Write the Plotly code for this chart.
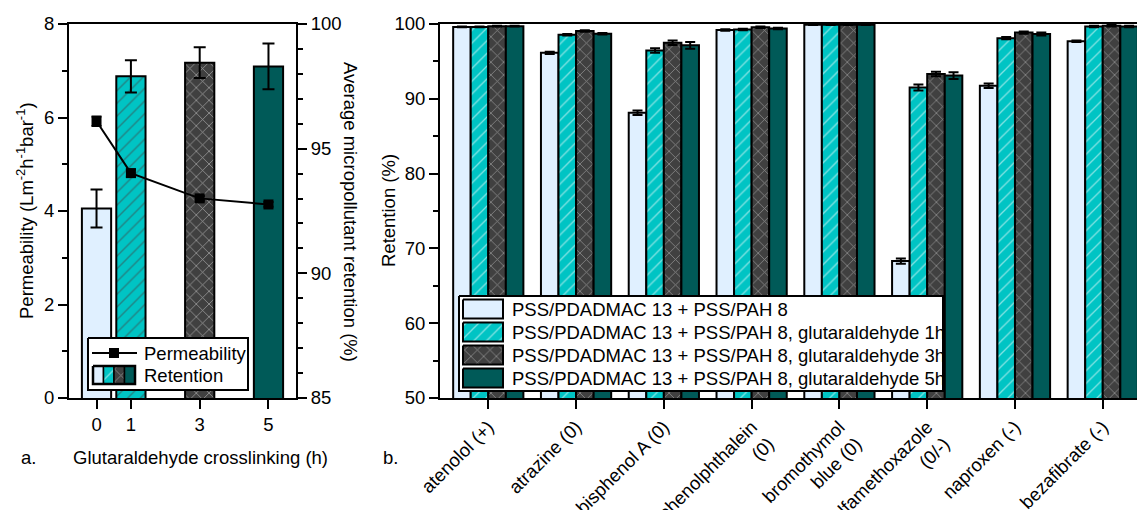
import plotly.graph_objects as go

# ---------------- data ----------------
times = [0, 1, 3, 5]
retention_avg = [92.6, 97.9, 98.45, 98.3]
retention_err = [0.76, 0.65, 0.62, 0.92]
permeability = [5.92, 4.81, 4.27, 4.14]
perm_err = [0.1, 0.08, 0.05, 0.05]

compounds = ["atenolol (+)", "atrazine (0)", "bisphenol A (0)", "phenolphthalein<br>(0)",
             "bromothymol<br>blue (0)", "sulfamethoxazole<br>(0/-)", "naproxen (-)", "bezafibrate (-)"]
ret_0h = [99.6, 96.15, 88.15, 99.2, 99.9, 68.3, 91.75, 97.7]
err_0h = [0.05, 0.15, 0.3, 0.1, 0.05, 0.35, 0.3, 0.1]
ret_1h = [99.6, 98.55, 96.45, 99.25, 99.9, 91.5, 98.1, 99.65]
err_1h = [0.05, 0.1, 0.3, 0.1, 0.05, 0.4, 0.15, 0.1]
ret_3h = [99.7, 99.05, 97.5, 99.55, 99.9, 93.3, 98.85, 99.75]
err_3h = [0.05, 0.1, 0.3, 0.1, 0.05, 0.3, 0.15, 0.1]
ret_5h = [99.7, 98.7, 97.15, 99.4, 99.9, 93.1, 98.65, 99.65]
err_5h = [0.05, 0.1, 0.45, 0.1, 0.05, 0.45, 0.2, 0.1]

series_names = ["PSS/PDADMAC 13 + PSS/PAH 8",
                "PSS/PDADMAC 13 + PSS/PAH 8, glutaraldehyde 1h",
                "PSS/PDADMAC 13 + PSS/PAH 8, glutaraldehyde 3h",
                "PSS/PDADMAC 13 + PSS/PAH 8, glutaraldehyde 5h"]

# ---------------- styles ----------------
W, H = 1137, 510
FONT = "Liberation Sans, Arial, sans-serif"
FS = 18.5
LIGHT, CYAN, GREY, TEAL = "#E0F0FF", "#00C4C4", "#404040", "#005A58"
styles = [
    dict(color=LIGHT, pattern=dict(shape="")),
    dict(color=CYAN, pattern=dict(shape="/", fgcolor="white", bgcolor=CYAN, size=9, solidity=0.15)),
    dict(color=GREY, pattern=dict(shape="x", fgcolor="#D0D0D0", bgcolor=GREY, size=9, solidity=0.18)),
    dict(color=TEAL, pattern=dict(shape="")),
]

def px_x(p):
    return p / W

def px_y(p):
    return 1 - p / H

fig = go.Figure()

# ---- left panel: retention bars (yaxis, right side) ----
fig.add_trace(go.Bar(
    x=times, y=retention_avg, width=0.85, xaxis="x", yaxis="y",
    marker=dict(color=[s["color"] for s in styles],
                line=dict(color="black", width=2),
                pattern=dict(shape=["", "/", "x", ""],
                             fgcolor=["white", "white", "#D0D0D0", "white"],
                             bgcolor=[LIGHT, CYAN, GREY, TEAL],
                             size=9, solidity=0.16)),
    error_y=dict(type="data", array=retention_err, color="black", thickness=2, width=6),
    showlegend=False))

# ---- left panel: permeability line (yaxis2, left side) ----
fig.add_trace(go.Scatter(
    x=times, y=permeability, xaxis="x", yaxis="y2", mode="lines+markers",
    line=dict(color="black", width=2),
    marker=dict(symbol="square", size=10, color="black"),
    error_y=dict(type="data", array=perm_err, color="black", thickness=2, width=5),
    showlegend=False))

# ---- right panel: grouped bars ----
for i, (vals, errs) in enumerate([(ret_0h, err_0h), (ret_1h, err_1h), (ret_3h, err_3h), (ret_5h, err_5h)]):
    st = styles[i]
    fig.add_trace(go.Bar(
        x=compounds, y=vals, width=0.2, offset=-0.4 + 0.2 * i,
        xaxis="x2", yaxis="y3", name=series_names[i],
        marker=dict(color=st["color"], line=dict(color="black", width=2), pattern=st["pattern"]),
        error_y=dict(type="data", array=errs, color="black", thickness=2, width=5),
        showlegend=False))

# ---- legend decorations on a full-figure pixel axis ----
def rect(x0, x1, y0, y1):
    return [x0, x1, x1, x0, x0], [y0, y0, y1, y1, y0]

def add_poly(x0, x1, y0, y1, fill, lw=2, pattern=None):
    xs, ys = rect(x0, x1, y0, y1)
    kw = dict(x=xs, y=ys, xaxis="x3", yaxis="y4", mode="lines", fill="toself",
              fillcolor=fill, line=dict(color="black", width=lw),
              hoverinfo="skip", showlegend=False)
    if pattern:
        kw["fillpattern"] = pattern
    fig.add_trace(go.Scatter(**kw))

# left legend
add_poly(88, 248, 338, 390, "white", 2)
fig.add_trace(go.Scatter(x=[92, 137], y=[353, 353], xaxis="x3", yaxis="y4", mode="lines",
                         line=dict(color="black", width=2), hoverinfo="skip", showlegend=False))
fig.add_trace(go.Scatter(x=[114], y=[353], xaxis="x3", yaxis="y4", mode="markers",
                         marker=dict(symbol="square", size=10, color="black"),
                         hoverinfo="skip", showlegend=False))
sw = [93, 103.5, 114, 124.5, 135]
for i in range(4):
    st = styles[i]
    pat = st["pattern"] if st["pattern"]["shape"] else None
    add_poly(sw[i], sw[i + 1], 366, 384, st["color"], 1.5, pat)
xs, ys = rect(93, 135, 366, 384)
fig.add_trace(go.Scatter(x=xs, y=ys, xaxis="x3", yaxis="y4", mode="lines",
                         line=dict(color="black", width=2.5), hoverinfo="skip", showlegend=False))

# right legend
add_poly(459, 943, 296, 391, "white", 2)
rows = [309, 332, 355, 378]
for i in range(4):
    st = styles[i]
    pat = st["pattern"] if st["pattern"]["shape"] else None
    add_poly(463, 503, rows[i] - 9.5, rows[i] + 9.5, st["color"], 2, pat)

annotations = []
def ann(text, x, y, xanchor="center", yanchor="middle", angle=0, size=FS):
    annotations.append(dict(text=text, x=x, y=y, xref="x3", yref="y4", showarrow=False,
                            xanchor=xanchor, yanchor=yanchor, textangle=angle,
                            font=dict(family=FONT, size=size, color="black")))

ann("Permeability", 142, 353, xanchor="left")
ann("Retention", 142, 375, xanchor="left")
for i in range(4):
    ann(series_names[i], 510, rows[i], xanchor="left")
ann("Permeability (Lm<sup>-2</sup>h<sup>-1</sup>bar<sup>-1</sup>)", 25, 211, angle=-90)
ann("Average micropollutant retention (%)", 351, 212, angle=90)
ann("Retention (%)", 388, 211, angle=-90)
ann("Glutaraldehyde crosslinking (h)", 200, 457)
ann("a.", 28, 457)
ann("b.", 390, 457)

axis_common = dict(showline=True, linecolor="black", linewidth=2, ticks="outside",
                   ticklen=9, tickwidth=2, tickcolor="black", showgrid=False, zeroline=False,
                   automargin=False,
                   tickfont=dict(family=FONT, size=FS, color="black"), fixedrange=True)

fig.update_layout(
    width=W, height=H, margin=dict(l=0, r=0, t=0, b=0, pad=0, autoexpand=False),
    paper_bgcolor="white", plot_bgcolor="rgba(0,0,0,0)",
    barmode="overlay", showlegend=False,
    font=dict(family=FONT, size=FS, color="black"),
    annotations=annotations,
    xaxis=dict(**axis_common, domain=[px_x(69), px_x(296)], range=[-0.8, 5.8],
               tickvals=times, mirror=True, anchor="y"),
    yaxis=dict(**axis_common, domain=[px_y(398), px_y(24)], range=[85, 100], side="right",
               dtick=5, anchor="x",
               minor=dict(dtick=1, ticks="outside", ticklen=5, tickwidth=2, tickcolor="black")),
    yaxis2=dict(**axis_common, range=[0, 8], side="left", overlaying="y", dtick=2, anchor="x",
                minor=dict(dtick=1, ticks="outside", ticklen=5, tickwidth=2, tickcolor="black")),
    xaxis2=dict(**axis_common, domain=[px_x(440), 1.0], range=[-0.55, 7.39], anchor="y3",
                tickangle=-45, mirror=True, type="category"),
    yaxis3=dict(**axis_common, domain=[px_y(398), px_y(24)], range=[50, 100], dtick=10,
                anchor="x2",
                minor=dict(dtick=5, ticks="outside", ticklen=5, tickwidth=2, tickcolor="black")),
    xaxis3=dict(domain=[0, 1], range=[0, W], visible=False, fixedrange=True, anchor="y4",
                automargin=False),
    yaxis4=dict(domain=[0, 1], range=[H, 0], visible=False, fixedrange=True, anchor="x3",
                automargin=False),
)

fig.write_html("out.html")
